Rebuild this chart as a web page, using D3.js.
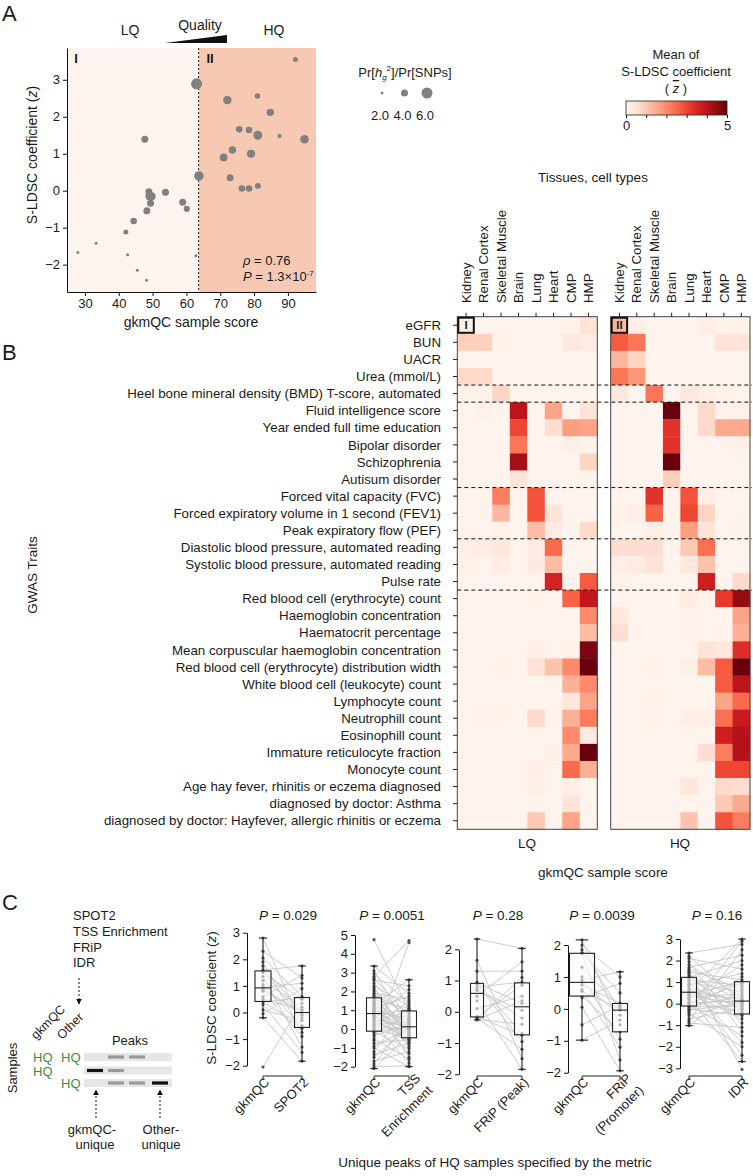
<!DOCTYPE html>
<html lang="en">
<head>
<meta charset="UTF-8">
<title>gkmQC sample score vs S-LDSC</title>
<script src="https://cdn.jsdelivr.net/npm/d3@7"></script>
<style>
    body { margin: 0; background: white; }
    svg { display: block; font-family: "Liberation Sans", Arial, sans-serif; }
    text { fill: #1a1a1a; }
</style>
</head>
<body>
<svg id="fig" width="753" height="1176"></svg>
<script>

// ---------- panel A data ----------
const sampleScore = [27.9, 33.3, 42.1, 42.6, 44.4, 45.5, 48.2, 47.7, 48.3, 48.9, 49.2, 49.4, 49.7, 53.8, 58.9, 60.1, 62.8, 63.0, 63.7,
    72.1, 81.0, 84.8, 75.6, 78.5, 81.1, 73.6, 71.0, 79.1, 72.9, 76.4, 78.5, 81.1, 92.2, 87.5, 94.9];
const sldscZ = [-1.67, -1.42, -1.12, -1.73, -0.82, -2.15, -2.42, 1.39, -0.54, -0.03, -0.15, -0.34, -0.15, -0.04, -0.31, -0.49, -1.76, 2.89, 0.40,
    2.45, 2.56, 2.12, 1.66, 1.64, 1.50, 1.10, 0.90, 1.00, 0.35, 0.06, 0.06, 0.13, 3.55, 1.48, 1.39];
const h2Ratio = [2.0, 2.0, 3.0, 2.0, 3.8, 2.0, 2.0, 4.0, 4.0, 4.0, 5.0, 4.0, 4.6, 4.0, 4.0, 3.6, 2.0, 6.0, 5.2,
    4.6, 3.2, 4.2, 3.8, 3.8, 5.0, 4.2, 4.4, 4.6, 4.0, 3.8, 3.8, 3.4, 3.0, 2.6, 4.8];
const qualityCut = 63.6;
const sizeLegend = [2.0, 4.0, 6.0];
const scoreTicks = [30, 40, 50, 60, 70, 80, 90];
const zTicks = [-2, -1, 0, 1, 2, 3];

// ---------- panel B data ----------
const tissues = ["Kidney", "Renal Cortex", "Skeletal Muscle", "Brain", "Lung", "Heart", "CMP", "HMP"];
const traits = [
    "eGFR", "BUN", "UACR", "Urea (mmol/L)",
    "Heel bone mineral density (BMD) T-score, automated",
    "Fluid intelligence score", "Year ended full time education", "Bipolar disorder", "Schizophrenia", "Autisum disorder",
    "Forced vital capacity (FVC)", "Forced expiratory volume in 1 second (FEV1)", "Peak expiratory flow (PEF)",
    "Diastolic blood pressure, automated reading", "Systolic blood pressure, automated reading", "Pulse rate",
    "Red blood cell (erythrocyte) count", "Haemoglobin concentration", "Haematocrit percentage",
    "Mean corpuscular haemoglobin concentration", "Red blood cell (erythrocyte) distribution width",
    "White blood cell (leukocyte) count", "Lymphocyte count", "Neutrophill count", "Eosinophill count",
    "Immature reticulocyte fraction", "Monocyte count", "Age hay fever, rhinitis or eczema diagnosed",
    "diagnosed by doctor: Asthma", "diagnosed by doctor: Hayfever, allergic rhinitis or eczema"
];
const groupBreaks = [4, 5, 10, 13, 16];
const lqZ = [
    [0.1, 0.05, 0.05, 0.05, 0.05, 0.05, 0.1, 0.5],
    [0.9, 0.9, 0.1, 0.05, 0.05, 0.05, 0.4, 0.3],
    [0.05, 0.05, 0.05, 0.05, 0.05, 0.05, 0.05, 0.05],
    [0.7, 0.7, 0.05, 0.05, 0.05, 0.05, 0.05, 0.05],
    [0.1, 0.1, 0.8, 0.05, 0.05, 0.05, 0.05, 0.05],
    [0.05, 0.15, 0.05, 4.0, 0.05, 1.6, 0.05, 0.5],
    [0.05, 0.05, 0.05, 3.0, 0.05, 0.6, 1.7, 1.6],
    [0.05, 0.05, 0.05, 2.3, 0.05, 0.05, 0.2, 0.1],
    [0.05, 0.05, 0.05, 4.3, 0.05, 0.05, 0.05, 0.8],
    [0.05, 0.05, 0.05, 0.5, 0.05, 0.05, 0.05, 0.05],
    [0.05, 0.05, 2.2, 0.05, 2.8, 0.05, 0.05, 0.05],
    [0.05, 0.05, 1.3, 0.05, 2.8, 0.5, 0.05, 0.05],
    [0.05, 0.05, 0.15, 0.05, 1.2, 0.3, 0.05, 0.7],
    [0.2, 0.3, 0.4, 0.05, 0.3, 2.5, 0.05, 0.05],
    [0.15, 0.05, 0.3, 0.05, 0.3, 1.2, 0.05, 0.05],
    [0.05, 0.05, 0.05, 0.05, 0.05, 3.6, 0.15, 2.7],
    [0.05, 0.05, 0.05, 0.05, 0.1, 0.05, 2.6, 3.9],
    [0.05, 0.05, 0.05, 0.05, 0.05, 0.05, 0.05, 2.0],
    [0.05, 0.05, 0.05, 0.05, 0.05, 0.05, 0.05, 1.2],
    [0.05, 0.05, 0.05, 0.05, 0.2, 0.05, 0.1, 4.8],
    [0.05, 0.05, 0.1, 0.05, 0.5, 1.1, 2.0, 5.0],
    [0.05, 0.05, 0.05, 0.05, 0.05, 0.05, 1.4, 2.0],
    [0.05, 0.05, 0.05, 0.05, 0.05, 0.05, 0.4, 1.6],
    [0.05, 0.1, 0.1, 0.05, 0.7, 0.1, 1.4, 2.2],
    [0.05, 0.05, 0.05, 0.05, 0.05, 0.05, 2.0, 0.3],
    [0.05, 0.05, 0.05, 0.05, 0.05, 0.2, 1.5, 5.0],
    [0.05, 0.05, 0.05, 0.05, 0.2, 0.05, 2.5, 1.4],
    [0.05, 0.05, 0.05, 0.05, 0.2, 0.05, 0.2, 0.05],
    [0.05, 0.05, 0.05, 0.05, 0.05, 0.05, 0.5, 0.05],
    [0.05, 0.05, 0.05, 0.05, 1.0, 0.05, 1.6, 0.05]
];
const hqZ = [
    [1.3, 0.2, 0.05, 0.05, 0.05, 0.2, 0.1, 0.1],
    [2.7, 2.3, 0.05, 0.05, 0.05, 0.05, 0.5, 0.5],
    [1.3, 0.8, 0.05, 0.05, 0.05, 0.05, 0.05, 0.05],
    [2.3, 1.8, 0.05, 0.05, 0.05, 0.05, 0.05, 0.05],
    [0.4, 0.05, 2.3, 0.05, 0.4, 0.2, 0.1, 0.05],
    [0.05, 0.05, 0.05, 5.0, 0.05, 0.7, 0.1, 0.15],
    [0.05, 0.05, 0.05, 3.3, 0.05, 0.7, 1.5, 1.5],
    [0.05, 0.05, 0.05, 3.3, 0.05, 0.05, 0.05, 0.15],
    [0.05, 0.05, 0.05, 5.0, 0.05, 0.05, 0.05, 0.05],
    [0.05, 0.05, 0.05, 0.9, 0.05, 0.05, 0.05, 0.05],
    [0.05, 0.05, 3.3, 0.05, 2.8, 0.2, 0.05, 0.05],
    [0.15, 0.2, 2.6, 0.05, 3.0, 0.8, 0.05, 0.05],
    [0.05, 0.05, 0.2, 0.05, 1.7, 0.5, 0.05, 0.1],
    [0.6, 0.6, 0.6, 0.05, 1.0, 2.4, 0.05, 0.05],
    [0.2, 0.3, 0.5, 0.05, 0.4, 1.1, 0.05, 0.05],
    [0.1, 0.05, 0.05, 0.05, 0.05, 3.7, 0.05, 0.7],
    [0.05, 0.05, 0.05, 0.05, 0.3, 0.1, 3.2, 4.5],
    [0.4, 0.05, 0.05, 0.05, 0.1, 0.05, 0.05, 1.6],
    [0.6, 0.05, 0.05, 0.05, 0.15, 0.05, 0.1, 1.4],
    [0.05, 0.05, 0.05, 0.05, 0.05, 0.5, 0.4, 3.4],
    [0.05, 0.05, 0.1, 0.05, 0.2, 1.2, 2.7, 5.0],
    [0.05, 0.05, 0.05, 0.05, 0.05, 0.05, 2.7, 4.0],
    [0.05, 0.05, 0.1, 0.05, 0.05, 0.05, 1.6, 2.5],
    [0.05, 0.05, 0.1, 0.05, 0.2, 0.2, 2.4, 3.8],
    [0.05, 0.05, 0.05, 0.05, 0.05, 0.05, 3.7, 4.1],
    [0.05, 0.05, 0.05, 0.05, 0.05, 0.6, 2.2, 4.1],
    [0.05, 0.05, 0.05, 0.05, 0.05, 0.05, 3.0, 3.0],
    [0.05, 0.05, 0.05, 0.05, 0.4, 0.05, 0.7, 0.6],
    [0.05, 0.05, 0.05, 0.05, 0.05, 0.05, 1.0, 1.5],
    [0.05, 0.05, 0.05, 0.05, 1.1, 0.05, 2.8, 2.2]
];
const colorTicks = [0, 1, 2, 3, 4, 5];

// ---------- panel C data ----------
const qcMetrics = ["SPOT2", "TSS Enrichment", "FRiP", "IDR"];
const compareLabels = [["SPOT2"], ["TSS", "Enrichment"], ["FRiP (Peak)"], ["FRiP", "(Promoter)"], ["IDR"]];
const pValues = ["0.029", "0.0051", "0.28", "0.0039", "0.16"];

const spot2Gkm = [-2.05, -0.2, -0.05, 0.1, 0.3, 0.4, 0.42, 0.5, 0.6, 0.8, 0.85, 0.9, 0.95, 1.05, 1.2, 1.35, 1.5, 1.55, 1.6, 1.75, 1.9, 2.05, 2.3, 2.8];
const spot2Other = [0.35, -1.83, 0.9, -0.3, -1.5, 0.55, -0.6, 0.1, 1.4, -0.9, 0.02, -0.1, 1.1, -0.55, 0.2, -1.3, 0.5, -0.2, 1.75, -0.02, -0.75, 0.6, 1.3, -0.5];

const tssGkm = [-2.1, -2.0, -1.85, -1.7, -1.5, -1.35, -1.2, -1.0, -0.9, -0.75, -0.6, -0.5, -0.35, -0.25, -0.15,
    -0.1, 0.0, 0.1, 0.2, 0.25, 0.3, 0.4, 0.45, 0.5, 0.55, 0.6, 0.65, 0.7, 0.75, 0.8,
    0.85, 0.9, 0.95, 1.0, 1.05, 1.1, 1.2, 1.25, 1.3, 1.35, 1.4, 1.45, 1.5, 1.55, 1.65,
    1.7, 1.8, 1.9, 2.0, 2.1, 2.2, 2.3, 2.45, 2.6, 2.7, 2.8, 2.95, 3.1, 3.35, 4.75];
const tssOther = [-0.3, -1.95, 0.5, -1.2, 0.1, -0.75, 1.3, -2.0, 0.02, -0.55, 4.6, -1.6, 0.27, 0.8, -1.05,
    0.07, -0.5, 1.5, -0.1, 0.35, -1.8, 0.95, -0.45, 0.14, 2.1, -0.7, 0.05, -0.25, 1.05, -1.3,
    0.22, 0.6, -0.85, 0.45, -0.15, 1.75, -0.6, 0.09, 2.62, -1.5, 0.3, 0.0, -0.95, 1.1, 0.18,
    -0.35, 0.88, 1.6, -0.2, 0.55, -0.4, 1.2, 0.4, 2.3, 0.7, 4.7, 1.4, -0.05, 1.9, 1.0];

const frpPeakGkm = [-0.26, -0.24, -0.22, -0.2, -0.17, -0.15, 0.1, 0.35, 0.5, 0.68, 0.72, 0.8, 0.88, 0.92, 0.95, 1.3, 1.65, 2.33];
const frpPeakOther = [0.35, -0.4, 1.1, -1.2, 0.85, -0.75, 0.5, -1.84, 1.6, 0.05, -0.2, 0.95, -0.95, 0.27, -0.7, 1.3, -1.5, 2.03];

const frpPromGkm = [-0.98, -0.5, 0.05, 0.35, 0.4, 0.55, 0.6, 0.75, 0.83, 0.9, 1.0, 1.3, 1.74, 1.75, 1.85, 2.0, 2.16];
const frpPromOther = [-0.35, 0.1, -1.94, 0.8, -0.72, 0.0, -1.2, 0.17, -0.2, 1.16, -0.95, 0.05, -1.6, 0.5, -0.04, 1.0, -0.5];

const idrGkm = [-1.02, -0.9, -0.8, -0.7, -0.55, -0.45, -0.35, -0.3, -0.25, -0.2, -0.15,
    -0.11, -0.05, 0.0, 0.05, 0.12, 0.2, 0.25, 0.3, 0.38, 0.42, 0.48,
    0.53, 0.58, 0.63, 0.7, 0.78, 0.85, 0.9, 0.98, 1.05, 1.1, 1.15,
    1.22, 1.3, 1.38, 1.45, 1.5, 1.6, 1.68, 1.8, 1.95, 2.1, 2.2, 2.35];
const idrOther = [0.75, -1.1, 2.5, -0.25, 0.1, -2.0, 1.25, 0.0, -0.55, 2.9, -0.12,
    0.35, -1.5, 0.95, 0.12, -0.4, 1.8, -2.69, 0.45, -0.05, 1.02, -0.7,
    0.2, 3.0, -0.48, 0.04, -1.8, 1.4, -0.3, 0.55, -2.4, 0.85, -0.2,
    2.0, 0.15, -0.9, 1.1, -3.05, 0.65, 2.25, 0.27, -1.3, 1.6, 0.08, 2.75];

const pairedSets = [
    [spot2Gkm, spot2Other], [tssGkm, tssOther], [frpPeakGkm, frpPeakOther],
    [frpPromGkm, frpPromOther], [idrGkm, idrOther]
];

// layout of the five paired box plots
const boxLayout = [
    { axisX: 247, cx: [263, 302], w: [16, 15], ticks: [-2, 3], y: [1065.7, 932.7], px: 288 },
    { axisX: 355, cx: [374, 409], w: [15, 15], ticks: [-2, 5], y: [1066.7, 935], px: 392 },
    { axisX: 459, cx: [477, 522], w: [13, 15], ticks: [-2, 2], y: [1074.3, 949.3], px: 498 },
    { axisX: 568, cx: [582, 620], w: [25, 15], ticks: [-2, 2], y: [1072.7, 945], px: 602 },
    { axisX: 680, cx: [689, 742], w: [15, 15], ticks: [-3, 3], y: [1068.3, 939], px: 717 }
];

const svg = d3.select("#fig");
const FONT = '"Liberation Sans", Arial, sans-serif';

function styleAxis(g, size = 13) {
    g.attr("font-family", FONT).attr("font-size", size);
    g.selectAll(".domain").attr("stroke", "#111");
    g.selectAll(".tick line").attr("stroke", "#111");
    g.selectAll(".tick text").attr("fill", "#1a1a1a");
}

// ================= panel A =================
const xA = d3.scaleLinear().domain([24.7, 98.3]).range([67, 316]);
const yA = d3.scaleLinear().domain([-2.74, 3.86]).range([292, 48]);
const rA = d3.scaleLinear().domain([2, 6]).range([1.5, 5.5]);

const panelA = svg.append("g");

panelA.append("rect")
    .attr("x", xA(24.7)).attr("y", yA(3.86))
    .attr("width", xA(qualityCut) - xA(24.7))
    .attr("height", yA(-2.74) - yA(3.86))
    .attr("fill", "#fdf4ef");
panelA.append("rect")
    .attr("x", xA(qualityCut)).attr("y", yA(3.86))
    .attr("width", xA(98.3) - xA(qualityCut))
    .attr("height", yA(-2.74) - yA(3.86))
    .attr("fill", "#f7c9b3");
panelA.append("line")
    .attr("x1", xA(qualityCut)).attr("x2", xA(qualityCut))
    .attr("y1", yA(3.86)).attr("y2", yA(-2.74))
    .attr("stroke", "#222").attr("stroke-width", 1)
    .attr("stroke-dasharray", "2,2");

panelA.append("g")
    .selectAll("circle")
    .data(sampleScore.map((s, i) => ({ s, z: sldscZ[i], r: h2Ratio[i] })))
    .join("circle")
    .attr("cx", d => xA(d.s))
    .attr("cy", d => yA(d.z))
    .attr("r", d => rA(d.r))
    .attr("fill", "#808080");

panelA.append("g")
    .attr("transform", "translate(0,292)")
    .call(d3.axisBottom(xA).tickValues(scoreTicks).tickSize(4).tickSizeOuter(0).tickPadding(3))
    .call(styleAxis);
panelA.append("g")
    .attr("transform", "translate(67,0)")
    .call(d3.axisLeft(yA).tickValues(zTicks).tickSize(4).tickSizeOuter(0).tickFormat(d3.format("d")))
    .call(styleAxis);

panelA.append("text").attr("x", 76).attr("y", 63).attr("text-anchor", "middle")
    .attr("font-size", 13).attr("font-weight", "bold").text("I");
panelA.append("text").attr("x", 210).attr("y", 63).attr("text-anchor", "middle")
    .attr("font-size", 13).attr("font-weight", "bold").text("II");

const rho = panelA.append("text").attr("x", 243).attr("y", 265).attr("font-size", 13);
rho.append("tspan").attr("font-style", "italic").text("ρ");
rho.append("tspan").text(" = 0.76");
const pA = panelA.append("text").attr("x", 243).attr("y", 281).attr("font-size", 13);
pA.append("tspan").attr("font-style", "italic").text("P");
pA.append("tspan").text(" = 1.3×10");
pA.append("tspan").attr("font-size", 8).attr("dy", -5).text("-7");

panelA.append("text").attr("x", 191).attr("y", 327).attr("text-anchor", "middle")
    .attr("font-size", 14).text("gkmQC sample score");
const yLabA = panelA.append("text")
    .attr("transform", "translate(37,155) rotate(-90)")
    .attr("text-anchor", "middle").attr("font-size", 14);
yLabA.append("tspan").text("S-LDSC coefficient (");
yLabA.append("tspan").attr("font-style", "italic").text("z");
yLabA.append("tspan").text(")");

// quality wedge
panelA.append("text").attr("x", 130).attr("y", 35).attr("text-anchor", "middle").attr("font-size", 14).text("LQ");
panelA.append("text").attr("x", 200).attr("y", 30).attr("text-anchor", "middle").attr("font-size", 14).text("Quality");
panelA.append("text").attr("x", 274).attr("y", 35).attr("text-anchor", "middle").attr("font-size", 14).text("HQ");
panelA.append("path").attr("d", "M165,43 L227,43 L227,35 Z").attr("fill", "#111");

svg.append("text").attr("x", 2).attr("y", 21).attr("font-size", 22).text("A");

// size legend
const sizeLeg = svg.append("g");
const legTitle = sizeLeg.append("text").attr("x", 405).attr("y", 77).attr("text-anchor", "middle").attr("font-size", 13);
legTitle.append("tspan").text("Pr[");
legTitle.append("tspan").attr("font-style", "italic").text("h");
legTitle.append("tspan").attr("font-style", "italic").attr("font-size", 8).attr("dy", 3).text("g");
legTitle.append("tspan").attr("font-size", 8).attr("dy", -9).text("2");
legTitle.append("tspan").attr("dy", 6).text("]/Pr[SNPs]");
const legX = d3.scalePoint().domain(sizeLegend).range([382, 427]);
sizeLeg.selectAll("circle").data(sizeLegend).join("circle")
    .attr("cx", d => legX(d)).attr("cy", 93).attr("r", d => rA(d)).attr("fill", "#808080");
sizeLeg.selectAll("text.lab").data(sizeLegend).join("text").attr("class", "lab")
    .attr("x", d => legX(d) - 2).attr("y", 120).attr("text-anchor", "middle").attr("font-size", 13)
    .text(d => d.toFixed(1));

// colour legend
const color = d3.scaleSequential(d3.interpolateReds).domain([0, 5]).clamp(true);
const defs = svg.append("defs");
const grad = defs.append("linearGradient").attr("id", "redsGrad");
grad.selectAll("stop").data(d3.range(0, 1.01, 0.1)).join("stop")
    .attr("offset", d => d).attr("stop-color", d => color(d * 5));
const cbX = d3.scaleLinear().domain([0, 5]).range([626, 727]);
const cb = svg.append("g");
cb.append("text").attr("x", 676).attr("y", 59).attr("text-anchor", "middle").attr("font-size", 13).text("Mean of");
cb.append("text").attr("x", 676).attr("y", 76).attr("text-anchor", "middle").attr("font-size", 13).text("S-LDSC coefficient");
const zbar = cb.append("text").attr("x", 676).attr("y", 93).attr("text-anchor", "middle").attr("font-size", 13);
zbar.append("tspan").text("( ");
zbar.append("tspan").attr("font-style", "italic").attr("text-decoration", "overline").text("z");
zbar.append("tspan").text(" )");
cb.append("rect").attr("x", cbX(0)).attr("y", 101).attr("width", cbX(5) - cbX(0)).attr("height", 14)
    .attr("fill", "url(#redsGrad)").attr("stroke", "#222").attr("stroke-width", 0.8);
cb.append("g").attr("transform", "translate(0,115)")
    .call(d3.axisBottom(cbX).tickValues(colorTicks).tickSize(3).tickSizeOuter(0)
        .tickFormat(d => (d === 0 || d === 5) ? d : ""))
    .call(styleAxis)
    .call(g => g.select(".domain").remove());

// ================= panel B =================
const yB = d3.scaleBand().domain(traits).range([316.7, 829.3]);
const panelB = svg.append("g");

function heatmap(x0, x1, values, tag) {
    const x = d3.scaleBand().domain(tissues).range([x0, x1]);
    const g = panelB.append("g");
    const cells = traits.flatMap((t, i) => tissues.map((s, j) => ({ t, s, v: values[i][j] })));
    g.selectAll("rect.cell").data(cells).join("rect").attr("class", "cell")
        .attr("x", d => x(d.s)).attr("y", d => yB(d.t))
        .attr("width", x.bandwidth() + 0.4).attr("height", yB.bandwidth() + 0.4)
        .attr("fill", d => color(d.v));
    g.append("rect").attr("x", x0).attr("y", yB.range()[0])
        .attr("width", x1 - x0).attr("height", yB.range()[1] - yB.range()[0])
        .attr("fill", "none").attr("stroke", "#444").attr("stroke-width", 1);
    // column ticks and labels
    g.selectAll("line.ct").data(tissues).join("line").attr("class", "ct")
        .attr("x1", d => x(d) + x.bandwidth() / 2).attr("x2", d => x(d) + x.bandwidth() / 2)
        .attr("y1", yB.range()[0] - 4).attr("y2", yB.range()[0]).attr("stroke", "#222");
    g.selectAll("text.cl").data(tissues).join("text").attr("class", "cl")
        .attr("transform", d => `translate(${x(d) + x.bandwidth() / 2},303) rotate(-90)`)
        .attr("dy", "0.35em").attr("font-size", 13.3).text(d => d);
    // region box
    g.append("rect").attr("x", x(tissues[0]) + 1).attr("y", yB(traits[0]) + 1)
        .attr("width", x.bandwidth() - 2).attr("height", yB.bandwidth() - 2)
        .attr("fill", "none").attr("stroke", "#111").attr("stroke-width", 2);
    g.append("text").attr("x", x(tissues[0]) + x.bandwidth() / 2).attr("y", yB(traits[0]) + yB.bandwidth() / 2)
        .attr("dy", "0.36em").attr("text-anchor", "middle").attr("font-size", 11.5).attr("font-weight", "bold").text(tag);
    return x;
}

const xLQ = heatmap(457.3, 597.3, lqZ, "I");
const xHQ = heatmap(610.7, 750, hqZ, "II");

panelB.selectAll("line.sep").data(groupBreaks).join("line").attr("class", "sep")
    .attr("x1", 457.3).attr("x2", 752)
    .attr("y1", d => yB(traits[d])).attr("y2", d => yB(traits[d]))
    .attr("stroke", "#111").attr("stroke-width", 1).attr("stroke-dasharray", "4,3");

panelB.selectAll("line.rt").data(traits).join("line").attr("class", "rt")
    .attr("x1", 453).attr("x2", 457.3)
    .attr("y1", d => yB(d) + yB.bandwidth() / 2).attr("y2", d => yB(d) + yB.bandwidth() / 2)
    .attr("stroke", "#222");
panelB.selectAll("text.rl").data(traits).join("text").attr("class", "rl")
    .attr("x", 441).attr("y", d => yB(d) + yB.bandwidth() / 2)
    .attr("dy", "0.35em").attr("text-anchor", "end").attr("font-size", 13.3).text(d => d);

panelB.append("text").attr("x", 593).attr("y", 182).attr("text-anchor", "middle").attr("font-size", 13.5).text("Tissues, cell types");
panelB.append("text").attr("transform", "translate(37,575) rotate(-90)").attr("text-anchor", "middle")
    .attr("font-size", 13.5).text("GWAS Traits");
panelB.append("text").attr("x", 527).attr("y", 848).attr("text-anchor", "middle").attr("font-size", 13.5).text("LQ");
panelB.append("text").attr("x", 680).attr("y", 848).attr("text-anchor", "middle").attr("font-size", 13.5).text("HQ");
panelB.append("text").attr("x", 603).attr("y", 877).attr("text-anchor", "middle").attr("font-size", 13.5).text("gkmQC sample score");
svg.append("text").attr("x", 2).attr("y", 360).attr("font-size", 22).text("B");

// ================= panel C =================
svg.append("text").attr("x", 2).attr("y", 910).attr("font-size", 22).text("C");

const schem = svg.append("g");
defs.append("marker").attr("id", "arrowHead").attr("viewBox", "0 0 10 10")
    .attr("refX", 9).attr("refY", 5).attr("markerWidth", 6).attr("markerHeight", 6)
    .attr("orient", "auto-start-reverse")
    .append("path").attr("d", "M0,0 L10,5 L0,10 Z").attr("fill", "#111");

schem.selectAll("text.metric").data(qcMetrics).join("text").attr("class", "metric")
    .attr("x", 73).attr("y", (d, i) => 920 + i * 15.8).attr("font-size", 13).text(d => d);
schem.append("line").attr("x1", 79).attr("x2", 79).attr("y1", 978).attr("y2", 1004)
    .attr("stroke", "#111").attr("stroke-dasharray", "2,2").attr("marker-end", "url(#arrowHead)");
schem.append("text").attr("transform", "translate(36,1040) rotate(-45)").attr("font-size", 12.5).text("gkmQC");
schem.append("text").attr("transform", "translate(62,1040) rotate(-45)").attr("font-size", 12.5).text("Other");
schem.append("text").attr("x", 130).attr("y", 1045).attr("text-anchor", "middle").attr("font-size", 13).text("Peaks");
schem.append("text").attr("transform", "translate(17,1068) rotate(-90)").attr("text-anchor", "middle")
    .attr("font-size", 13).text("Samples");

const hqGreen = "#3d8b3d";
const rowsY = [1057, 1070.5, 1083];
[[1, 1], [1, 0], [0, 1]].forEach((flags, i) => {
    if (flags[0]) schem.append("text").attr("x", 33).attr("y", rowsY[i] + 5).attr("font-size", 13)
        .attr("fill", hqGreen).style("fill", hqGreen).text("HQ");
    if (flags[1]) schem.append("text").attr("x", 61).attr("y", rowsY[i] + 5).attr("font-size", 13)
        .attr("fill", hqGreen).style("fill", hqGreen).text("HQ");
    schem.append("rect").attr("x", 84).attr("y", rowsY[i] - 4).attr("width", 88).attr("height", 8).attr("fill", "#e6e6e6");
});
const peakBars = [
    [1057, 108, "#999"], [1057, 129, "#999"],
    [1070.5, 87, "#111"], [1070.5, 108, "#999"],
    [1083, 108, "#999"], [1083, 129, "#999"], [1083, 152, "#111"]
];
schem.selectAll("rect.peak").data(peakBars).join("rect").attr("class", "peak")
    .attr("x", d => d[1]).attr("y", d => d[0] - 1.6).attr("width", 16).attr("height", 3.2).attr("fill", d => d[2]);
[96, 160].forEach(x => {
    schem.append("line").attr("x1", x).attr("x2", x).attr("y1", 1118).attr("y2", 1090)
        .attr("stroke", "#111").attr("stroke-dasharray", "2,2").attr("marker-end", "url(#arrowHead)");
});
schem.append("text").attr("x", 92).attr("y", 1134).attr("text-anchor", "middle").attr("font-size", 13).text("gkmQC-");
schem.append("text").attr("x", 95).attr("y", 1149).attr("text-anchor", "middle").attr("font-size", 13).text("unique");
schem.append("text").attr("x", 161).attr("y", 1134).attr("text-anchor", "middle").attr("font-size", 13).text("Other-");
schem.append("text").attr("x", 161).attr("y", 1149).attr("text-anchor", "middle").attr("font-size", 13).text("unique");

function boxStats(values) {
    const s = values.slice().sort(d3.ascending);
    const q1 = d3.quantile(s, 0.25), med = d3.quantile(s, 0.5), q3 = d3.quantile(s, 0.75);
    const iqr = q3 - q1;
    const lo = d3.min(s.filter(v => v >= q1 - 1.5 * iqr));
    const hi = d3.max(s.filter(v => v <= q3 + 1.5 * iqr));
    return { q1, med, q3, lo, hi };
}

pairedSets.forEach((pair, i) => {
    const L = boxLayout[i];
    const y = d3.scaleLinear().domain(L.ticks).range(L.y);
    const g = svg.append("g");

    g.selectAll("line.pair").data(d3.zip(pair[0], pair[1])).join("line").attr("class", "pair")
        .attr("x1", L.cx[0]).attr("x2", L.cx[1])
        .attr("y1", d => y(d[0])).attr("y2", d => y(d[1]))
        .attr("stroke", "#c6c6c6").attr("stroke-width", 0.9);

    pair.forEach((vals, k) => {
        g.append("g").selectAll("circle").data(vals).join("circle")
            .attr("cx", L.cx[k]).attr("cy", d => y(d)).attr("r", 1.6).attr("fill", "#555");
        const st = boxStats(vals);
        const cx = L.cx[k], w = L.w[k];
        const bg = g.append("g").attr("stroke", "#222").attr("stroke-width", 1.1);
        bg.append("line").attr("x1", cx).attr("x2", cx).attr("y1", y(st.hi)).attr("y2", y(st.q3));
        bg.append("line").attr("x1", cx).attr("x2", cx).attr("y1", y(st.q1)).attr("y2", y(st.lo));
        bg.append("line").attr("x1", cx - w / 4).attr("x2", cx + w / 4).attr("y1", y(st.hi)).attr("y2", y(st.hi));
        bg.append("line").attr("x1", cx - w / 4).attr("x2", cx + w / 4).attr("y1", y(st.lo)).attr("y2", y(st.lo));
        bg.append("rect").attr("x", cx - w / 2).attr("y", y(st.q3))
            .attr("width", w).attr("height", y(st.q1) - y(st.q3))
            .attr("fill", "rgba(255,255,255,0.55)");
        bg.append("line").attr("x1", cx - w / 2).attr("x2", cx + w / 2).attr("y1", y(st.med)).attr("y2", y(st.med));
    });

    g.append("g").attr("transform", `translate(${L.axisX},0)`)
        .call(d3.axisLeft(y).tickValues(d3.range(L.ticks[0], L.ticks[1] + 1)).tickSize(4).tickSizeOuter(0)
            .tickFormat(d3.format("d")))
        .call(styleAxis);

    // trimmed x spine
    g.append("path")
        .attr("d", `M${L.cx[0]},1080 V1076 H${L.cx[1]} V1080`)
        .attr("fill", "none").attr("stroke", "#222");

    const names = [["gkmQC"], compareLabels[i]];
    names.forEach((ln, k) => {
        const c = L.cx[k];
        if (ln.length === 1) {
            g.append("text").attr("transform", `translate(${c + 4},1080) rotate(-45)`)
                .attr("text-anchor", "end").attr("dy", "0.35em").attr("font-size", 13).text(ln[0]);
        } else {
            const t = g.append("g").attr("transform", `translate(${c + 9},1076) rotate(-45)`);
            t.append("text").attr("text-anchor", "end").attr("dy", "0.35em").attr("font-size", 13).text(ln[0]);
            t.append("text").attr("text-anchor", "end").attr("y", 17).attr("dy", "0.35em").attr("font-size", 13).text(ln[1]);
        }
    });

    const pt = g.append("text").attr("x", L.px).attr("y", 920).attr("text-anchor", "middle").attr("font-size", 13.5);
    pt.append("tspan").attr("font-style", "italic").text("P");
    pt.append("tspan").text(" = " + pValues[i]);
});

const yLabC = svg.append("text").attr("transform", "translate(216,998) rotate(-90)")
    .attr("text-anchor", "middle").attr("font-size", 13.5);
yLabC.append("tspan").text("S-LDSC coefficient (");
yLabC.append("tspan").attr("font-style", "italic").text("z");
yLabC.append("tspan").text(")");

svg.append("text").attr("x", 495).attr("y", 1167).attr("text-anchor", "middle").attr("font-size", 13.5)
    .text("Unique peaks of HQ samples specified by the metric");

</script>
</body>
</html>
